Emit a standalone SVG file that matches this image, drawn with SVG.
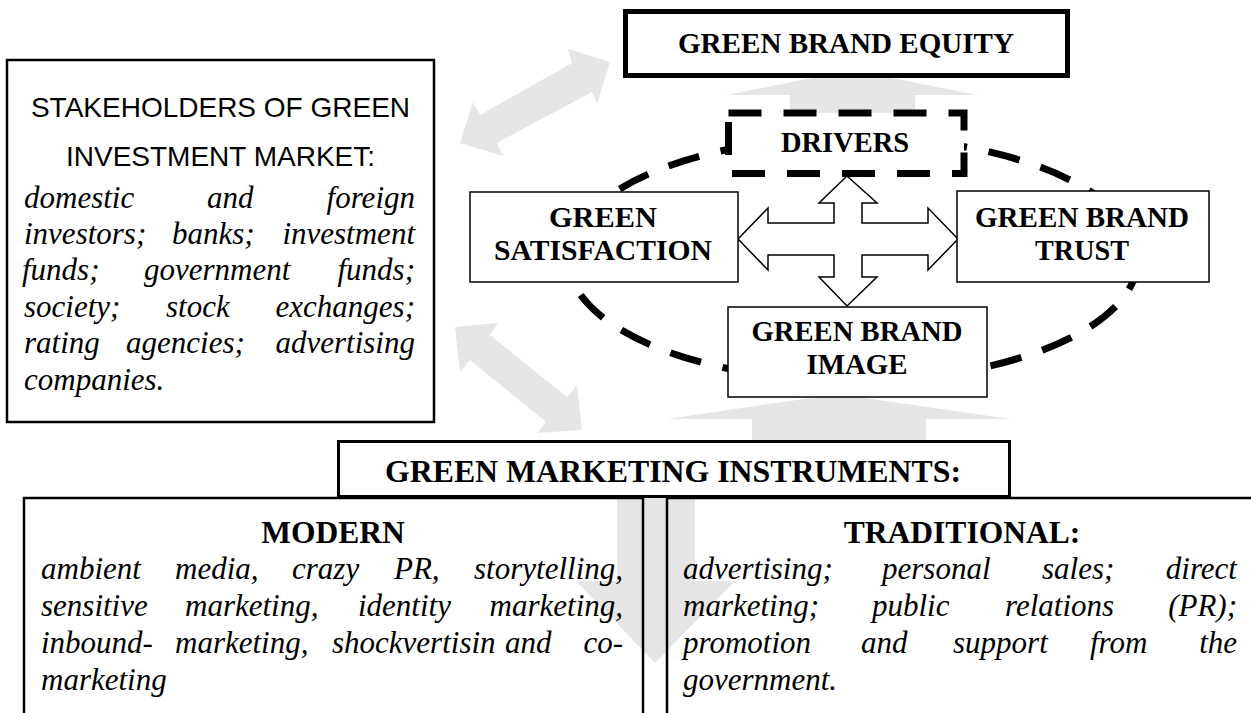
<svg xmlns="http://www.w3.org/2000/svg" width="1251" height="713" viewBox="0 0 1251 713">
<defs>
<style>
.bg{fill:#fff}
.grey{fill:#e6e6e6;stroke:none}
.box{fill:#fff;stroke:#000;stroke-width:1.5}
.open{fill:none;stroke:#000;stroke-width:2.5}
.dash{fill:none;stroke:#000;stroke-width:7;stroke-dasharray:32 22}
.hb{font-family:"Liberation Serif","Times New Roman",serif;font-weight:bold;font-size:30px;text-anchor:middle;fill:#000}
.hb2{font-family:"Liberation Serif","Times New Roman",serif;font-weight:bold;font-size:31.5px;text-anchor:middle;fill:#000}
.sans{font-family:"Liberation Sans",Arial,sans-serif;font-size:28px;text-anchor:middle;fill:#000}
.it{font-family:"Liberation Serif","Times New Roman",serif;font-style:italic;font-size:31px;fill:#000}
.e{text-anchor:end}
</style>
</defs>
<rect class="bg" x="0" y="0" width="1251" height="713"/>
<g id="connectors">
<polygon class="grey" points="460,143 473,102 480,115 572,63 568,49 610,62 597,104 592,92 497,143 503,156"/>
<polygon class="grey" points="455,327 498,323 490,335 567,397 577,385 582,430 537,433 546,422 470,360 460,372"/>
<polygon class="grey" points="727,95 852,70 977,95 915,95 915,114 790,114 790,95"/>
<polygon class="grey" points="667,419 838,394 1010,419 926,419 926,441 752,441 752,419"/>
<polygon class="grey" points="617,497 695,497 695,581 735,581 655,663 576,581 617,581"/>
<ellipse class="dash" cx="853" cy="259" rx="285" ry="122"/>
<polygon fill="#fff" stroke="#000" stroke-width="1.5" points="847,176 877,203 862,203 862,223 928,223 928,208 958,239 928,270 928,255 862,255 862,277 877,277 847,306 819,277 834,277 834,255 768,255 768,270 738,239 768,208 768,223 834,223 834,203 819,203"/>
</g>
<g id="n-stakeholders">
<rect x="7" y="60" width="427" height="362" fill="#fff" stroke="#000" stroke-width="2.5"/>
<text class="sans" x="220.5" y="117">STAKEHOLDERS OF GREEN</text>
<text class="sans" x="220.5" y="166">INVESTMENT MARKET:</text>
<text class="it" y="208"><tspan x="24">domestic</tspan><tspan x="207">and</tspan><tspan x="415" class="e">foreign</tspan></text>
<text class="it" y="244"><tspan x="24">investors;</tspan><tspan x="172">banks;</tspan><tspan x="415" class="e">investment</tspan></text>
<text class="it" y="280"><tspan x="22">funds;</tspan><tspan x="144">government</tspan><tspan x="415" class="e">funds;</tspan></text>
<text class="it" y="317"><tspan x="24">society;</tspan><tspan x="166">stock</tspan><tspan x="415" class="e">exchanges;</tspan></text>
<text class="it" y="353"><tspan x="24">rating</tspan><tspan x="126">agencies;</tspan><tspan x="415" class="e">advertising</tspan></text>
<text class="it" x="24" y="390">companies.</text>
</g>
<g id="n-equity">
<rect x="625.5" y="11.5" width="442" height="64" fill="#fff" stroke="#000" stroke-width="5"/>
<text class="hb" x="846" y="53" textLength="336" lengthAdjust="spacingAndGlyphs">GREEN BRAND EQUITY</text>
</g>
<g id="n-drivers">
<rect x="728.5" y="113" width="235.5" height="60.5" fill="#fff" stroke="#000" stroke-width="7" stroke-dasharray="33 22"/>
<text class="hb" x="845" y="152" textLength="128" lengthAdjust="spacingAndGlyphs">DRIVERS</text>
</g>
<g id="n-satisfaction">
<rect class="box" x="470" y="192" width="268" height="90"/>
<text class="hb" x="603" y="227" textLength="108" lengthAdjust="spacingAndGlyphs">GREEN</text>
<text class="hb" x="603" y="260" textLength="218" lengthAdjust="spacingAndGlyphs">SATISFACTION</text>
</g>
<g id="n-trust">
<rect class="box" x="957" y="191" width="252" height="91"/>
<text class="hb" x="1082" y="227" textLength="214" lengthAdjust="spacingAndGlyphs">GREEN BRAND</text>
<text class="hb" x="1082" y="260" textLength="94" lengthAdjust="spacingAndGlyphs">TRUST</text>
</g>
<g id="n-image">
<rect class="box" x="728" y="307" width="259" height="90"/>
<text class="hb" x="857" y="341" textLength="211" lengthAdjust="spacingAndGlyphs">GREEN BRAND</text>
<text class="hb" x="857" y="374" textLength="101" lengthAdjust="spacingAndGlyphs">IMAGE</text>
</g>
<g id="n-modern">
<rect class="open" x="24" y="498" width="619" height="240"/>
<text class="hb2" x="333" y="543">MODERN</text>
<text class="it" y="579"><tspan x="41">ambient</tspan><tspan x="175">media,</tspan><tspan x="292">crazy</tspan><tspan x="394">PR,</tspan><tspan x="623" class="e">storytelling,</tspan></text>
<text class="it" y="616"><tspan x="41">sensitive</tspan><tspan x="185">marketing,</tspan><tspan x="358">identity</tspan><tspan x="623" class="e">marketing,</tspan></text>
<text class="it" y="653"><tspan x="41">inbound-</tspan><tspan x="175">marketing,</tspan><tspan x="332">shockvertisin</tspan><tspan x="505">and</tspan><tspan x="623" class="e">co-</tspan></text>
<text class="it" x="41" y="690">marketing</text>
</g>
<g id="n-traditional">
<rect class="open" x="667" y="498" width="600" height="240"/>
<text class="hb2" x="962" y="543">TRADITIONAL:</text>
<text class="it" y="579"><tspan x="683">advertising;</tspan><tspan x="882">personal</tspan><tspan x="1042">sales;</tspan><tspan x="1237" class="e">direct</tspan></text>
<text class="it" y="616"><tspan x="683">marketing;</tspan><tspan x="872">public</tspan><tspan x="1005">relations</tspan><tspan x="1237" class="e">(PR);</tspan></text>
<text class="it" y="653"><tspan x="683">promotion</tspan><tspan x="861">and</tspan><tspan x="953">support</tspan><tspan x="1090">from</tspan><tspan x="1237" class="e">the</tspan></text>
<text class="it" x="683" y="690">government.</text>
</g>
<g id="n-instruments">
<rect x="338.5" y="441.5" width="671" height="55" fill="#fff" stroke="#000" stroke-width="3"/>
<text class="hb2" x="673" y="482" textLength="576" lengthAdjust="spacingAndGlyphs">GREEN MARKETING INSTRUMENTS:</text>
</g>
</svg>
